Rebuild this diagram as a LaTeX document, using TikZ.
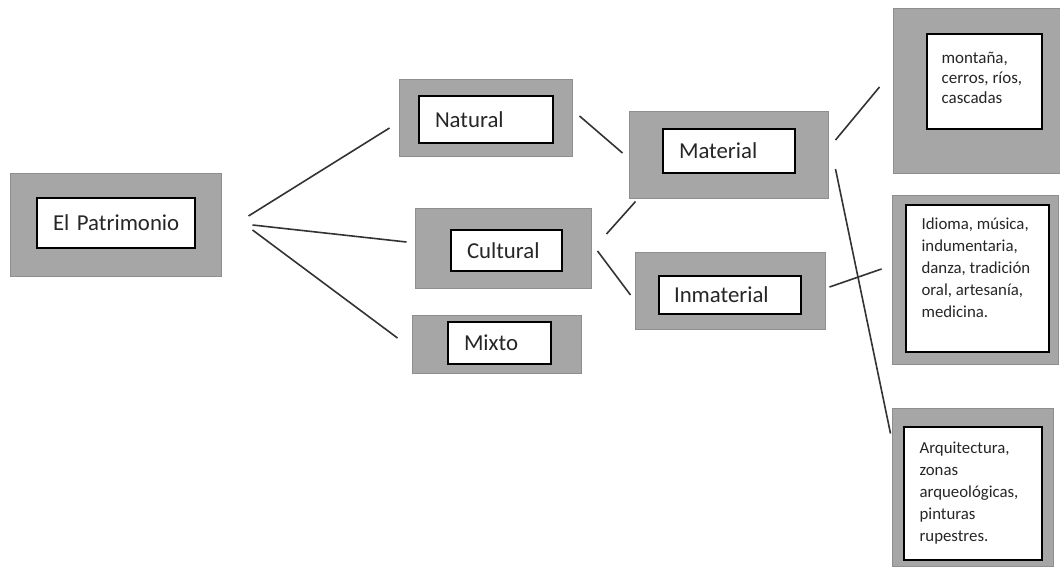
\documentclass[tikz,border=0pt]{standalone}
\usepackage{fontspec}
\setmainfont{Carlito}
\usetikzlibrary{calc}
\definecolor{boxgray}{HTML}{A6A6A6}
\definecolor{boxedge}{HTML}{8E8E8E}
\definecolor{inkgray}{HTML}{262626}
\tikzset{
	outbox/.style={draw=boxedge, fill=boxgray, line width=0.5pt, inner sep=0pt},
	inbox/.style={draw=black, fill=white, line width=0.8pt, inner sep=0pt, inner xsep=8pt, align=left, text=inkgray, font=\fontsize{11.4}{13.7}\selectfont},
	smalltext/.style={inner sep=0pt, align=left, text=inkgray, font=\fontsize{8.4}{11}\selectfont},
	link/.style={draw=black!80, line width=0.8pt},
}
\begin{document}
\begin{tikzpicture}[x=0.5pt, y=-0.5pt]
			\useasboundingbox (0,0) rectangle (1060,567);
			\node[outbox, minimum width=105.5pt, minimum height=51.5pt] (patbg) at (115.5,224.5) {};
			\node[inbox, text width=63pt, minimum height=25pt] (pat) at (116,223) {\mbox{El Patrimonio}};
			\node[outbox, minimum width=86.5pt, minimum height=38.5pt] (natbg) at (485.5,118.5) {};
			\node[inbox, text width=51pt, minimum height=23.5pt] (nat) at (486,119.5) {Natural};
			\node[outbox, minimum width=88pt, minimum height=40pt] (culbg) at (503,248) {};
			\node[inbox, text width=39.5pt, minimum height=20.5pt] (cul) at (506.5,250.5) {Cultural};
			\node[outbox, minimum width=84.5pt, minimum height=29pt] (mixbg) at (496.5,344) {};
			\node[inbox, text width=35.5pt, minimum height=21pt] (mix) at (499.5,343) {Mixto};
			\node[outbox, minimum width=99.5pt, minimum height=43pt] (matbg) at (728.5,155) {};
			\node[inbox, text width=50pt, minimum height=22pt] (mat) at (729,151) {Material};
			\node[outbox, minimum width=95pt, minimum height=38.5pt] (inmbg) at (730,290.5) {};
			\node[inbox, inner xsep=7.5pt, text width=56pt, minimum height=19pt] (inm) at (730,295) {Inmaterial};
			\node[outbox, minimum width=83.5pt, minimum height=82pt] (monbg) at (976.5,91) {};
			\node[inbox, minimum width=57.5pt, minimum height=47.5pt] (mon) at (984.5,81.5) {};
			\node[smalltext, anchor=north west, font=\fontsize{8.5}{10}\selectfont] (montxt) at ($(mon.north west)+(15,19)$) {montaña,\\cerros,~ríos,\\cascadas};
			\node[outbox, minimum width=83pt, minimum height=84.5pt] (idibg) at (975,279.5) {};
			\node[inbox, minimum width=71.5pt, minimum height=73.5pt] (idi) at (977.5,278.5) {};
			\node[smalltext, anchor=north west] (iditxt) at ($(idi.north west)+(16,13)$) {Idioma,~música,\\indumentaria,\\danza,~tradición\\oral,~artesanía,\\medicina.};
			\node[outbox, minimum width=80.5pt, minimum height=79pt] (arqbg) at (972.5,487) {};
			\node[inbox, minimum width=69pt, minimum height=66.5pt] (arq) at (973,493.5) {};
			\node[smalltext, anchor=north west] (arqtxt) at ($(arq.north west)+(16,15)$) {Arquitectura,\\zonas\\arqueológicas,\\pinturas\\rupestres.};
			\draw[link] ($(patbg.east)+(27,-8.5)$) -- ($(natbg.west)+(-9,9.5)$);
			\draw[link] ($(patbg.east)+(31,0.5)$) -- ($(culbg.west)+(-8,-6)$);
			\draw[link] ($(patbg.east)+(31,5.5)$) -- ($(mixbg.west)+(-14,-6)$);
			\draw[link] ($(natbg.east)+(7,-2.5)$) -- ($(matbg.west)+(-6,-2)$);
			\draw[link] ($(culbg.east)+(15,-14)$) -- ($(matbg.south west)+(7,3)$);
			\draw[link] ($(culbg.east)+(6,3)$) -- ($(inmbg.west)+(-4,4.5)$);
			\draw[link] ($(matbg.east)+(7,-15)$) -- ($(monbg.west)+(-13,-4)$);
			\draw[link] ($(matbg.east)+(7,14)$) -- ($(arqbg.north west)+(-1,26)$);
			\draw[link] ($(inmbg.east)+(4,-3.5)$) -- ($(idibg.west)+(-10,-10.5)$);
		\end{tikzpicture}
\end{document}
